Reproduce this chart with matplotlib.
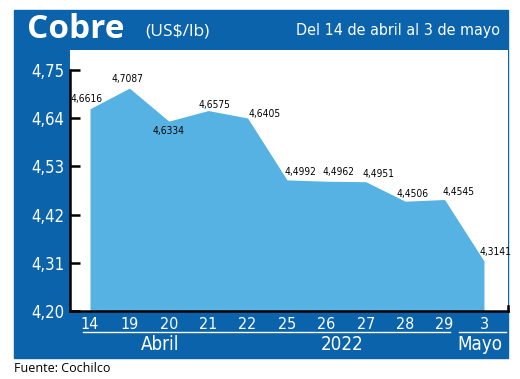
import matplotlib.pyplot as plt
from matplotlib.patches import Rectangle
from matplotlib.lines import Line2D

# datos: cobre US$/lb, 14 abril - 3 mayo 2022
days = ["14", "19", "20", "21", "22", "25", "26", "27", "28", "29", "3"]
prices = [4.6616, 4.7087, 4.6334, 4.6575, 4.6405, 4.4992, 4.4962, 4.4951, 4.4506, 4.4545, 4.3141]
price_labels = ["4,6616", "4,7087", "4,6334", "4,6575", "4,6405", "4,4992",
                "4,4962", "4,4951", "4,4506", "4,4545", "4,3141"]
yticks = [4.20, 4.31, 4.42, 4.53, 4.64, 4.75]
ytick_labels = ["4,20", "4,31", "4,42", "4,53", "4,64", "4,75"]

DARK = "#0a63ab"
FILL = "#55b2e2"
NARROW = dict(family="DejaVu Sans", fontstretch="condensed")

W, H = 520, 379

def fx(px):
    return px / W

def fy(py):
    return 1 - py / H

fig = plt.figure(figsize=(5.2, 3.79), dpi=100)
fig.patch.set_facecolor("white")

# blue frame
fig.add_artist(Rectangle((fx(14), fy(358)), fx(508) - fx(14), fy(10) - fy(358),
                         transform=fig.transFigure, color=DARK, zorder=0))

ax = fig.add_axes([fx(70), fy(311), fx(508) - fx(70), fy(50) - fy(311)])
ax.set_facecolor("white")

x = list(range(len(prices)))
ax.fill_between(x, 4.20, prices, color=FILL, linewidth=0)
ax.set_xlim(-0.508, 10.61)
ax.set_ylim(4.20, 4.7957)

# label offsets (pixels)
offsets = [(-3, 10), (-2, 9), (0, -10), (6, 6), (17, 4), (13, 8),
           (12, 9), (13, 8), (7, 7), (14, 7), (11, 9)]
for xi, v, lab, (dx, dy) in zip(x, prices, price_labels, offsets):
    ax.annotate(lab, (xi, v), xytext=(dx, dy), textcoords="offset pixels",
                ha="center", va="center", fontsize=7.3, color="black", **NARROW)

ax.set_yticks(yticks)
ax.set_yticklabels(ytick_labels, color="white", fontsize=12, **NARROW)
ax.tick_params(axis="y", direction="in", length=7, width=1.8, pad=4)
ax.set_xticks(x)
ax.set_xticklabels(days, color="white", fontsize=11.5, **NARROW)
ax.tick_params(axis="x", length=0, pad=4)

for s in ["top", "right"]:
    ax.spines[s].set_visible(False)
ax.spines["left"].set_bounds(4.20, 4.75)
ax.spines["left"].set_linewidth(1.8)
ax.spines["bottom"].set_linewidth(1.8)
ax.plot([1.0, 1.0], [0, 0.02], transform=ax.transAxes, color="black",
        lw=1.8, clip_on=False)

# month lines and labels
fig.add_artist(Line2D([fx(83), fx(450)], [fy(332), fy(332)], color="white", lw=1))
fig.add_artist(Line2D([fx(459), fx(506)], [fy(332), fy(332)], color="white", lw=1))
fig.text(fx(160), fy(344), "Abril", color="white", fontsize=13.5,
         ha="center", va="center", **NARROW)
fig.text(fx(342), fy(344), "2022", color="white", fontsize=13.5,
         ha="center", va="center", **NARROW)
fig.text(fx(480), fy(344), "Mayo", color="white", fontsize=13.5,
         ha="center", va="center", **NARROW)

# title band
fig.text(fx(27), fy(30), "Cobre", color="white", fontsize=24, fontweight="bold",
         family="Open Sans", ha="left", va="center")
fig.text(fx(145), fy(32), "(US$/lb)", color="white", fontsize=12.5,
         family="Open Sans", ha="left", va="center")
fig.text(fx(500), fy(31), "Del 14 de abril al 3 de mayo", color="white",
         fontsize=11.5, ha="right", va="center", **NARROW)

fig.text(fx(14), fy(369), "Fuente: Cochilco", color="black", fontsize=9,
         family="Open Sans", ha="left", va="center")

fig.savefig("out.png", dpi=100)
